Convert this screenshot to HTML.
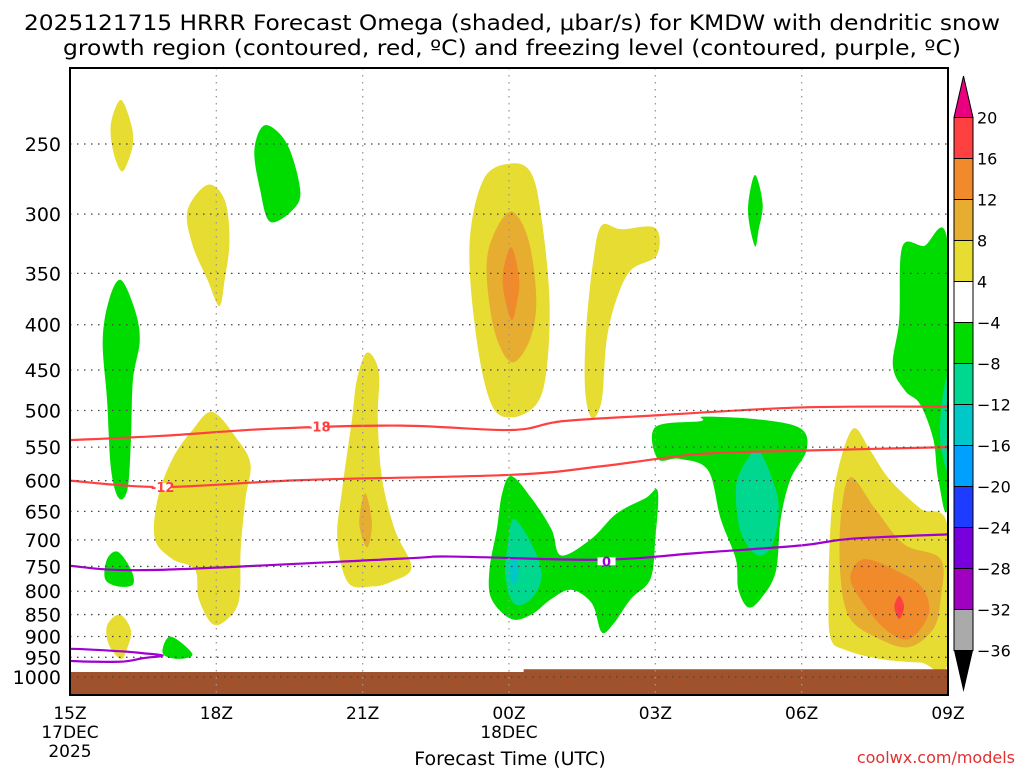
<!DOCTYPE html>
<html><head><meta charset="utf-8"><style>
html,body{margin:0;padding:0;background:#fff;}
svg{display:block;font-family:"DejaVu Sans","Liberation Sans",sans-serif;}
</style></head><body>
<svg id="chart" width="1024" height="768" viewBox="0 0 1024 768">
<text x="512" y="30" text-anchor="middle" font-size="21" textLength="976" lengthAdjust="spacingAndGlyphs">2025121715 HRRR Forecast Omega (shaded, μbar/s) for KMDW with dendritic snow</text>
<text x="512" y="55" text-anchor="middle" font-size="21" textLength="898" lengthAdjust="spacingAndGlyphs">growth region (contoured, red, ºC) and freezing level (contoured, purple, ºC)</text>
<g id="plot"></g>
<g id="axes"></g>
<g id="cbar"></g>
<text x="510" y="765" text-anchor="middle" font-size="19">Forecast Time (UTC)</text>
<text x="1015" y="763" text-anchor="end" font-size="16" fill="#e03030">coolwx.com/models</text>
</svg>
<script>
const xTickHours=[0,3,6,9,12,15,18];
const xTickLabels=["15Z","18Z","21Z","00Z","03Z","06Z","09Z"];
const yTicks=[250,300,350,400,450,500,550,600,650,700,750,800,850,900,950,1000];
const cbarLabels=["20","16","12","8","4","−4","−8","−12","−16","−20","−24","−28","−32","−36"];
const cbarColors=["#ff4040","#f08a2a","#e6ad30","#e6dc32","#ffffff","#00dc00","#00d890","#00c8c8","#00a0ff","#1e3cff","#7800dc","#a000c0","#aaaaaa"];
const C={y:"#e6dc32",g:"#e6ad30",o:"#f08a2a",r:"#ff4040",G:"#00dc00",T:"#00d890",Cy:"#00c8c8"};
const blobs=[
["y",[[1.04,223],[1.25,237],[1.29,250],[1.16,264],[1.04,268],[0.88,254],[0.84,237]]],
["G",[[1.04,356],[1.33,385],[1.43,417],[1.29,462],[1.25,539],[1.18,613],[1.0,628],[0.84,582],[0.76,487],[0.67,417],[0.8,375]]],
["y",[[2.92,502],[3.43,539],[3.7,575],[3.6,628],[3.5,716],[3.47,816],[3.23,860],[2.92,871],[2.64,816],[2.56,756],[2.1,736],[1.74,698],[1.8,628],[2.1,567],[2.5,527]]],
["y",[[2.82,278],[3.17,289],[3.27,321],[3.17,356],[3.06,381],[2.82,356],[2.51,325],[2.41,297]]],
["G",[[4,238],[4.45,250],[4.72,282],[4.56,297],[4.1,306],[3.9,282],[3.78,254]]],
["y",[[6.09,430],[6.33,452],[6.31,512],[6.4,598],[6.66,682],[7,752],[6.6,780],[6.2,790],[5.7,782],[5.48,698],[5.58,614],[5.78,512],[5.88,462]]],
["g",[[6.05,620],[6.19,670],[6.09,714],[5.93,670]]],
["y",[[9.05,263],[9.46,270],[9.67,304],[9.83,375],[9.77,450],[9.56,492],[9.05,509],[8.64,492],[8.34,417],[8.19,326],[8.48,274]]],
["g",[[9.05,298],[9.4,321],[9.56,375],[9.42,417],[9.05,441],[8.7,406],[8.54,347],[8.68,317]]],
["o",[[9.05,327],[9.21,356],[9.15,380],[9.05,395],[8.9,370],[8.88,348]]],
["y",[[10.9,309],[11.3,312],[12.0,311],[12.03,334],[11.5,347],[11.2,375],[11,417],[10.9,487],[10.7,510],[10.56,474],[10.58,406],[10.73,338]]],
["G",[[9.05,593],[9.46,628],[9.87,681],[10.07,729],[10.69,698],[11.2,654],[11.8,628],[12.05,617],[12.0,698],[11.9,775],[11.5,816],[11.14,871],[10.9,890],[10.7,826],[10.28,797],[9.87,816],[9.46,850],[9.05,860],[8.64,816],[8.6,756],[8.75,681],[8.86,620]]],
["T",[[9.1,663],[9.46,707],[9.67,766],[9.46,816],[9.1,826],[8.92,766],[8.98,707]]],
["Cy",[[9.1,728],[9.2,760],[9.1,786],[9,760]]],
["G",[[14.04,271],[14.2,292],[14.12,312],[14.04,326],[13.9,297]]],
["G",[[12,522],[12.93,514],[13.0,508],[14.16,512],[14.98,524],[15.1,554],[14.77,598],[14.57,663],[14.47,760],[14.16,816],[13.9,834],[13.7,795],[13.65,736],[13.34,663],[13.08,584],[12.5,567],[12.05,567]]],
["T",[[14.1,555],[14.4,598],[14.53,646],[14.4,708],[14.1,729],[13.75,686],[13.65,614],[13.8,578]]],
["y",[[16.06,524],[16.4,554],[16.8,598],[17.43,645],[18,678],[18,963],[17.43,963],[16.6,954],[15.9,932],[15.6,906],[15.55,816],[15.6,663],[15.75,582]]],
["g",[[16,595],[16.5,645],[17.1,708],[17.85,736],[17.85,816],[17.7,882],[17.2,925],[16.6,906],[16,860],[15.8,775],[15.8,663]]],
["o",[[16.3,736],[17.1,766],[17.5,797],[17.6,850],[17.2,906],[16.7,882],[16.2,816],[16,770]]],
["r",[[17,810],[17.1,833],[17,860],[16.9,833]]],
["G",[[17.06,327],[17.5,326],[18,326],[18,627],[17.8,598],[17.7,539],[17.43,492],[17.12,475],[16.87,445],[17,395]]],
["T",[[18,462],[18,582],[17.84,539],[17.88,487]]],
["G",[[0.98,722],[1.25,756],[1.29,786],[0.98,790],[0.72,775],[0.76,736]]],
["G",[[2.06,900],[2.51,942],[2.21,954],[1.9,940]]],
["y",[[1.02,850],[1.25,886],[1.16,932],[1.04,954],[0.8,920],[0.76,875]]]
];
const line18Hours=[0,1.9,4.2,6.8,9.05,10.1,12.1,15,18];
const line18P=[540,534,524,520,526,514,506,496,495];
const line12Hours=[0,1.9,4.8,9.05,10.9,12.9,15,18];
const line12P=[600,610,599,591,578,560,555,550];
const line0Hours=[0,1.7,6.8,7.8,10.9,12.9,15,16,18];
const line0P=[749,757,735,731,737,724,710,698,690];
const loop0Hours=[-0.2,1.0,1.5,1.9,1.5,1.0,-0.2];
const loop0P=[930,935,940,946,952,961,956];
const groundHours=[0,9.3,9.3,18];
const groundP=[987,987,980,980];

const X0=70,X1=948,Y0=68,Y1=695;
const xs=h=>X0+h*(X1-X0)/18;
const ys=p=>144+384.5*Math.log(p/250);
const NS="http://www.w3.org/2000/svg";
function mk(tag,attrs,parent){const e=document.createElementNS(NS,tag);for(const k in attrs)e.setAttribute(k,attrs[k]);parent.appendChild(e);return e;}
function smooth(pts,closed){
  const n=pts.length;let d=`M${pts[0][0]},${pts[0][1]}`;
  const g=i=>closed?pts[(i+n)%n]:pts[Math.max(0,Math.min(n-1,i))];
  const m=closed?n:n-1;
  for(let i=0;i<m;i++){const p0=g(i-1),p1=g(i),p2=g(i+1),p3=g(i+2);
    d+=` C${p1[0]+(p2[0]-p0[0])/6},${p1[1]+(p2[1]-p0[1])/6} ${p2[0]-(p3[0]-p1[0])/6},${p2[1]-(p3[1]-p1[1])/6} ${p2[0]},${p2[1]}`;}
  return d+(closed?"Z":"");
}
const plot=document.getElementById('plot');
const clip=mk('clipPath',{id:'pc'},mk('defs',{},plot));
mk('rect',{x:X0,y:Y0,width:X1-X0,height:Y1-Y0},clip);
const inner=mk('g',{'clip-path':'url(#pc)'},plot);
blobs.forEach((b,i)=>{
  const el=mk('path',{d:smooth(b[1].map(q=>[xs(q[0]),ys(q[1])]),true),fill:C[b[0]]},inner);
  
  
});
let gp=`M${xs(groundHours[0])},${Y1}`;groundHours.forEach((h,i)=>gp+=` L${xs(h)},${ys(groundP[i])}`);gp+=` L${X1},${Y1}Z`;
const gr=mk('path',{d:gp,fill:'#a0522d'},inner);


yTicks.forEach(p=>{const l=mk('line',{x1:X0,x2:X1,y1:ys(p),y2:ys(p),stroke:'#444','stroke-width':1.3,'stroke-dasharray':'1.5,5.5'},plot);
  
  });
xTickHours.forEach(h=>{const l=mk('line',{x1:xs(h),x2:xs(h),y1:Y0,y2:Y1,stroke:'#999','stroke-width':1.3,'stroke-dasharray':'1.5,5.5'},plot);
  
  });
function cline(hs,ps,color,name,closed){
  const el=mk('path',{d:smooth(hs.map((h,i)=>[xs(h),ys(ps[i])]),closed),fill:'none',stroke:color,'stroke-width':2.2},inner);
  
  
}
cline(line18Hours,line18P,'#ff4040','contour-minus18',false);
cline(line12Hours,line12P,'#ff4040','contour-minus12',false);
cline(line0Hours,line0P,'#a000d0','freezing-level-0',false);
cline(loop0Hours,loop0P,'#a000d0','freezing-level-0-loop',true);
function clabel(h,p,t,color,name){
  mk('rect',{x:xs(h)-9,y:ys(p)-4,width:18,height:8,fill:'#fff'},plot);
  const el=mk('text',{x:xs(h),y:ys(p)+5,'text-anchor':'middle','font-size':13,'font-weight':'bold',fill:color},plot);el.textContent=t;
  
  
}
clabel(5.1,521,'-18','#ff4040','label-minus18');
clabel(1.9,610,'-12','#ff4040','label-minus12');
clabel(11.0,740,'0','#a000d0','label-zero');
const ax=document.getElementById('axes');
mk('rect',{x:X0,y:Y0,width:X1-X0,height:Y1-Y0,fill:'none',stroke:'#000','stroke-width':2},ax);
yTicks.forEach(p=>{const t=mk('text',{x:61,y:ys(p)+7,'text-anchor':'end','font-size':19},ax);t.textContent=p;
  
  });
xTickHours.forEach((h,i)=>{const t=mk('text',{x:xs(h),y:719,'text-anchor':'middle','font-size':17},ax);t.textContent=xTickLabels[i];
  
  });
[["17DEC",0,738],["2025",0,757],["18DEC",9,738]].forEach(a=>{const t=mk('text',{x:xs(a[1]),y:a[2],'text-anchor':'middle','font-size':17},ax);t.textContent=a[0];
  
  });
const cb=document.getElementById('cbar');
const bx=954,bw=19,cTop=117.5,step=41;
mk('path',{d:`M${bx},${cTop} L${bx+bw/2},76 L${bx+bw},${cTop}Z`,fill:'#e8007f',stroke:'#000'},cb);
cbarColors.forEach((c,i)=>{const r=mk('rect',{x:bx,y:cTop+i*step,width:bw,height:step,fill:c,stroke:'#000','stroke-width':1},cb);
  
  });
const cBot=cTop+cbarColors.length*step;
mk('path',{d:`M${bx},${cBot} L${bx+bw/2},692 L${bx+bw},${cBot}Z`,fill:'#000'},cb);
cbarLabels.forEach((l,i)=>{const t=mk('text',{x:977,y:cTop+i*step+6,'font-size':16},cb);t.textContent=l;
  
  });
</script>
</body></html>
